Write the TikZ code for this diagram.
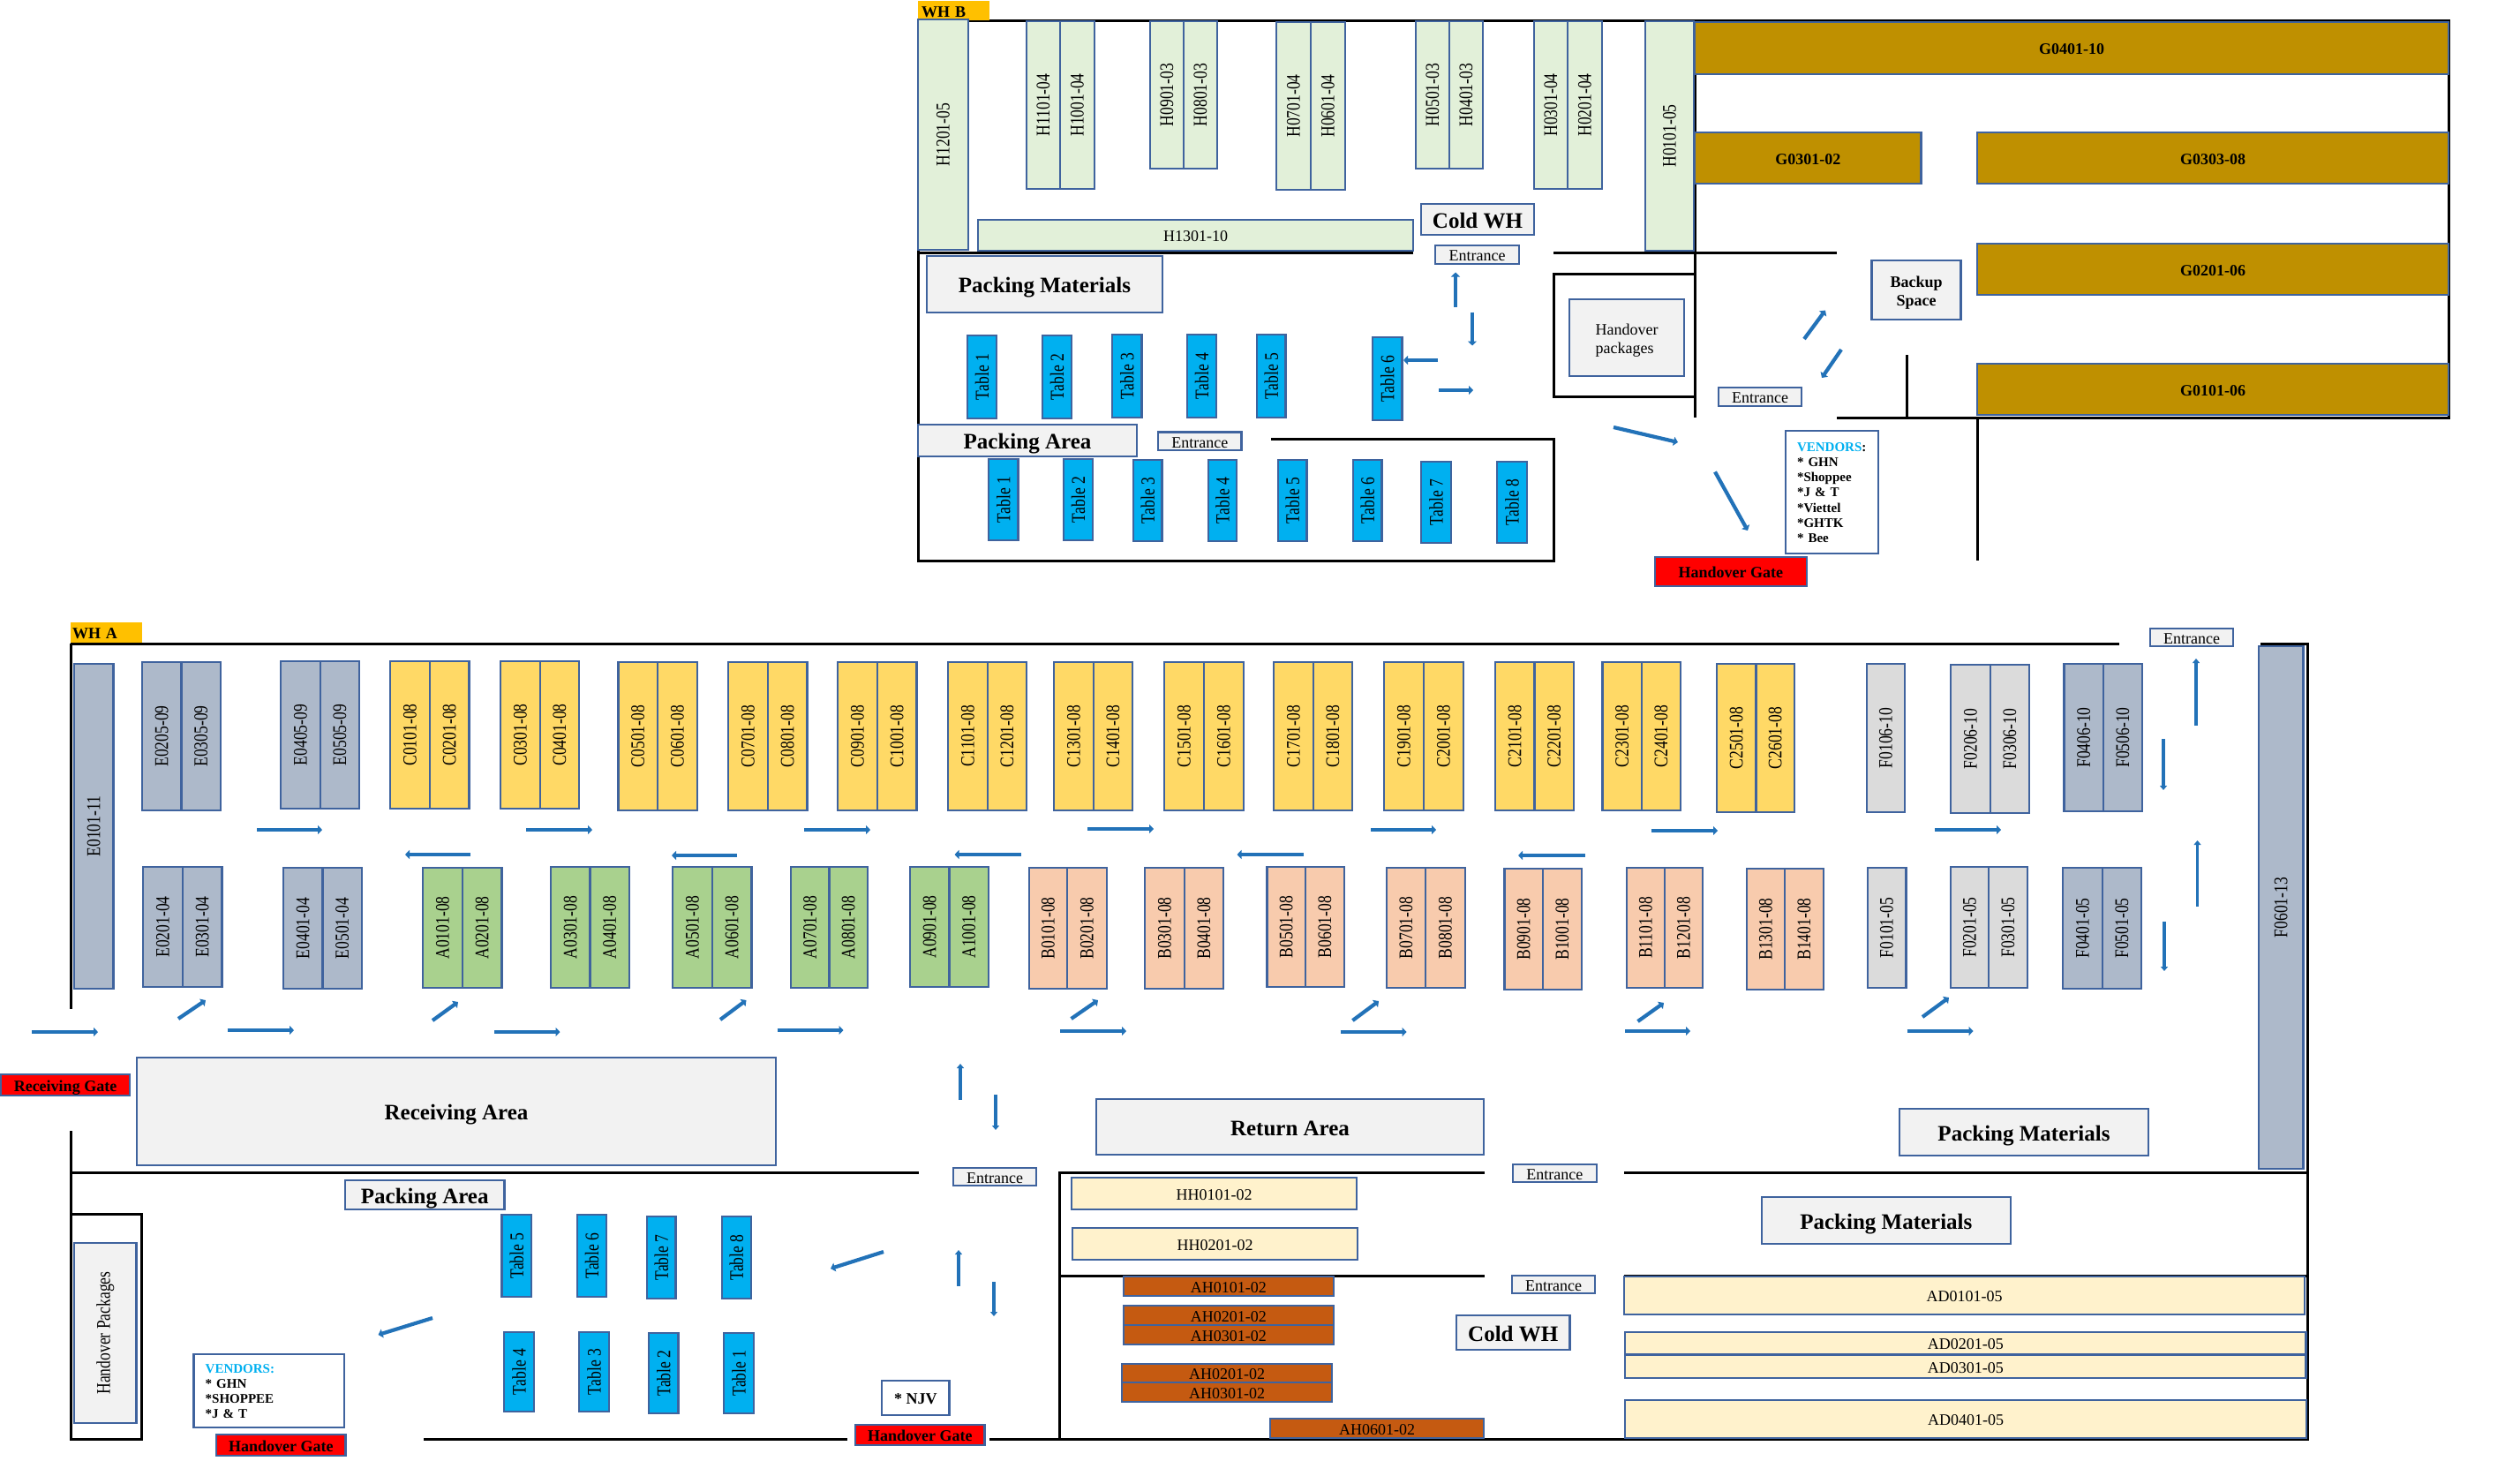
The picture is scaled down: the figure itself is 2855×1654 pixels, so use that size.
\documentclass[tikz,border=0pt]{standalone}
\usepackage{fontspec}
\usepackage{graphicx}
\usetikzlibrary{arrows.meta}
\setmainfont{Liberation Serif}
\newfontfamily\rotf[FakeStretch=0.80]{Liberation Serif}
\definecolor{edge}{HTML}{3F639E}
\definecolor{hgreen}{HTML}{E2F0D9}
\definecolor{gold}{HTML}{BF9000}
\definecolor{slate}{HTML}{ADB9CA}
\definecolor{yel}{HTML}{FFD966}
\definecolor{agreen}{HTML}{A9D18E}
\definecolor{peach}{HTML}{F8CBAD}
\definecolor{lgrey}{HTML}{DBDBDB}
\definecolor{cream}{HTML}{FFF2CC}
\definecolor{rust}{HTML}{C55A11}
\definecolor{cyanb}{HTML}{00B0F0}
\definecolor{pale}{HTML}{F2F2F2}
\definecolor{tag}{HTML}{FFC000}
\definecolor{flow}{HTML}{2272B8}
\tikzset{
 bxs/.style={draw=edge,line width=2.2pt,inner sep=0pt,outer sep=0pt,anchor=center,align=center,font=\fontsize{18}{21}\selectfont},
 lowt/.style={text height=14.5pt,text depth=0pt},
 big/.style={fill=pale,text height=19pt,text depth=0pt,font=\fontsize{25}{28}\selectfont\bfseries},
 small/.style={fill=pale,font=\fontsize{18}{21}\selectfont},
 gates/.style={fill=red,font=\fontsize{18}{20}\selectfont\bfseries},
 racku/.style={fill=gold,font=\fontsize{18}{21}\selectfont\bfseries},
 wall/.style={draw=black,line width=3pt},
 flowa/.style={draw=flow,line width=4.2pt,-{Triangle[length=5pt,width=10pt]}},
 flowv/.style={draw=flow,line width=3.2pt,-{Triangle[length=5pt,width=8pt]}},
 wtag/.style={fill=tag,draw=none,inner sep=0pt,outer sep=0pt,text height=14.5pt,text depth=0pt,font=\fontsize{18}{20}\selectfont\bfseries}
}
\newcommand\bxbase[7][]{%
 \pgfmathsetmacro\cxv{(#3+#5)/2}\pgfmathsetmacro\cyv{(#4+#6)/2}%
 \node[bxs,#1,minimum width={(#5-#3)*1pt},minimum height={(#6-#4)*1pt}] (#2) at (\cxv,\cyv) {#7};}
\newcommand\bx[7][]{\bxbase[lowt,#1]{#2}{#3}{#4}{#5}{#6}{#7}}
\newcommand\rbx[7][]{\bxbase[#1]{#2}{#3}{#4}{#5}{#6}{\rotatebox{90}{\rotf\fontsize{22}{22}\selectfont #7}}}
\newcommand\prr[9][]{\rbx[#1]{#2a}{#3}{#6}{#4}{#7}{#8}\rbx[#1]{#2b}{#4}{#6}{#5}{#7}{#9}}
\newcounter{arwn}
\newcommand\arw[5][flowa]{\stepcounter{arwn}%
 \coordinate (s\thearwn) at (#2,#3);\coordinate (e\thearwn) at (#4,#5);%
 \draw[#1] (s\thearwn) -- (e\thearwn);}
\begin{document}
\begin{tikzpicture}[x=1pt,y=-1pt]
\useasboundingbox (0,0) rectangle (2855,1654);
% ---------- WH B walls
\draw[wall] (1040,24) -- (2774,24) -- (2774,473) -- (2081,473);
\draw[wall] (1040,24) -- (1040,635) -- (1760,635) -- (1760,497) -- (1440,497);
\draw[wall] (1040,286) -- (1601,286);
\draw[wall] (1760,286) -- (2081,286);
\draw[wall] (1920,24) -- (1920,473);
\draw[wall] (1920,310) -- (1760,310) -- (1760,449) -- (1920,449);
\draw[wall] (2160,402) -- (2160,473);
\draw[wall] (2240,473) -- (2240,635);
% ---------- WH A walls
\draw[wall] (80,729) -- (2401,729);
\draw[wall] (2561,729) -- (2614,729) -- (2614,1630) -- (1121,1630);
\draw[wall] (80,729) -- (80,1143);
\draw[wall] (80,1281) -- (80,1630) -- (160,1630) -- (160,1375) -- (80,1375);
\draw[wall] (480,1630) -- (960,1630);
\draw[wall] (80,1328) -- (1041,1328);
\draw[wall] (1681.5,1328) -- (1200,1328) -- (1200,1630);
\draw[wall] (1840,1328) -- (2614,1328);
\draw[wall] (1200,1445) -- (1681.5,1445);
\draw[wall] (1840,1445) -- (2614,1445);
% ---------- WH B labels
\node[wtag,minimum width=81pt,minimum height=22pt,text width=73pt,align=left] (whb) at (1080.5,12) {WH B};
\node[wtag,minimum width=81pt,minimum height=23pt,text width=77pt,align=left] (wha) at (120.5,716.5) {WH A};
% ---------- WH B racks
\rbx[fill=hgreen]{h12}{1040}{22}{1097}{283}{H1201-05}
\prr[fill=hgreen]{h11}{1163}{1201}{1240}{24}{214}{H1101-04}{H1001-04}
\prr[fill=hgreen]{h09}{1303}{1341}{1379}{24}{191}{H0901-03}{H0801-03}
\prr[fill=hgreen]{h07}{1446}{1485}{1524}{25}{215}{H0701-04}{H0601-04}
\prr[fill=hgreen]{h05}{1604}{1642}{1680}{24}{191}{H0501-03}{H0401-03}
\prr[fill=hgreen]{h03}{1738}{1776}{1815}{24}{214}{H0301-04}{H0201-04}
\rbx[fill=hgreen]{h01}{1864}{24}{1919}{284}{H0101-05}
\bx[fill=hgreen]{h13}{1108}{249}{1601}{284}{H1301-10}
\bx[big]{coldb}{1610}{231}{1738}{266}{Cold WH}
\bx[small]{entb1}{1626}{278}{1721}{299}{Entrance}
\bx[big]{pmb}{1050}{290}{1317}{354}{Packing Materials}
\rbx[fill=cyanb]{tb1}{1096}{380}{1129}{474}{Table 1}
\rbx[fill=cyanb]{tb2}{1181}{380}{1214}{474}{Table 2}
\rbx[fill=cyanb]{tb3}{1260}{379}{1293.5}{473}{Table 3}
\rbx[fill=cyanb]{tb4}{1345}{379}{1378}{473}{Table 4}
\rbx[fill=cyanb]{tb5}{1424}{379}{1456.5}{473}{Table 5}
\rbx[fill=cyanb]{tb6}{1555}{382}{1588.5}{476}{Table 6}
\bx[big]{pab}{1040}{481}{1288}{517}{Packing Area}
\bx[small]{entb2}{1312}{489.5}{1406.5}{510}{Entrance}
\rbx[fill=cyanb]{tc1}{1120}{520}{1153.5}{612}{Table 1}
\rbx[fill=cyanb]{tc2}{1205}{520}{1238}{612}{Table 2}
\rbx[fill=cyanb]{tc3}{1284}{521}{1316.5}{613}{Table 3}
\rbx[fill=cyanb]{tc4}{1369}{521}{1401}{613}{Table 4}
\rbx[fill=cyanb]{tc5}{1448}{521}{1480.5}{613}{Table 5}
\rbx[fill=cyanb]{tc6}{1533}{521}{1565.5}{613}{Table 6}
\rbx[fill=cyanb]{tc7}{1610}{523}{1644}{615}{Table 7}
\rbx[fill=cyanb]{tc8}{1696}{523}{1730}{615}{Table 8}
\bxbase[small]{hpb}{1778}{339}{1908}{426}{\raisebox{-3pt}[\height][\depth]{\begin{tabular}{@{}l@{}}Handover\\packages\end{tabular}}}
\bx[gates]{hgb}{1874.7}{631}{2047}{664}{Handover Gate}
\bx[racku]{g04}{1920}{25}{2774}{84}{G0401-10}
\bx[racku]{g0301}{1920}{150}{2176.5}{208}{G0301-02}
\bx[racku]{g0303}{2240}{150}{2774}{208}{G0303-08}
\bx[racku]{g02}{2240}{276}{2774}{334}{G0201-06}
\bx[racku]{g01}{2240}{412}{2774}{470}{G0101-06}
\bxbase[fill=pale,font=\fontsize{18}{21}\selectfont\bfseries]{bks}{2120.5}{295}{2221.5}{362}{\raisebox{-3pt}[\height][\depth]{\begin{tabular}{@{}c@{}}Backup\\Space\end{tabular}}}
\bx[small]{entb3}{1947}{439}{2041}{460}{Entrance}
\bxbase[fill=white,text width=79pt,align=left,font=\fontsize{15}{17.3}\selectfont\bfseries]{vb}{2023}{488}{2128}{627}{\raisebox{-2pt}[\height][\depth]{\begin{tabular}{@{}l@{}}\textcolor{cyanb}{VENDORS}:\\{*} GHN\\{*}Shoppee\\{*}J \& T\\{*}Viettel\\{*}GHTK\\{*} Bee\end{tabular}}}
\arw[flowa]{1649}{348}{1649}{308.5}
\arw[flowa]{1668}{353.5}{1668}{391.5}
\arw[flowa]{1629}{408}{1590}{408}
\arw[flowa]{1630}{442}{1669}{442}
\arw[flowa]{1828}{484}{1901}{501}
\arw[flowa]{2044}{384}{2068}{351.5}
\arw[flowa]{2086}{396}{2064}{428}
\arw[flowa]{1943}{534.5}{1980}{601}
% ---------- WH A top row
\rbx[fill=slate]{e01}{84}{752}{128.5}{1120}{E0101-11}
\prr[fill=slate]{e02}{161}{205.5}{250}{750}{918}{E0205-09}{E0305-09}
\prr[fill=slate]{e04}{318}{363}{407}{749}{916}{E0405-09}{E0505-09}
\prr[fill=yel]{c01}{442}{487}{531.5}{749}{916}{C0101-08}{C0201-08}
\prr[fill=yel]{c03}{567}{612}{656}{749}{916}{C0301-08}{C0401-08}
\prr[fill=yel]{c05}{700.5}{745}{790}{750}{918}{C0501-08}{C0601-08}
\prr[fill=yel]{c07}{825}{870}{914.5}{750}{918}{C0701-08}{C0801-08}
\prr[fill=yel]{c09}{949}{993.6}{1038.5}{750}{918}{C0901-08}{C1001-08}
\prr[fill=yel]{c11}{1074}{1119}{1163}{750}{918}{C1101-08}{C1201-08}
\prr[fill=yel]{c13}{1194}{1239}{1283}{750}{918}{C1301-08}{C1401-08}
\prr[fill=yel]{c15}{1319}{1364}{1409}{750}{918}{C1501-08}{C1601-08}
\prr[fill=yel]{c17}{1443}{1488}{1532}{750}{918}{C1701-08}{C1801-08}
\prr[fill=yel]{c19}{1568}{1613}{1658}{750}{918}{C1901-08}{C2001-08}
\prr[fill=yel]{c21}{1694}{1738.5}{1783}{750}{918}{C2101-08}{C2201-08}
\prr[fill=yel]{c23}{1815.5}{1860}{1904}{750}{918}{C2301-08}{C2401-08}
\prr[fill=yel]{c25}{1945}{1989.5}{2033}{752}{920}{C2501-08}{C2601-08}
\rbx[fill=lgrey]{f0106}{2115}{752}{2158}{920}{F0106-10}
\prr[fill=lgrey]{f0206}{2210}{2255}{2299}{753}{921}{F0206-10}{F0306-10}
\prr[fill=slate]{f0406}{2338.5}{2383}{2427}{752}{919}{F0406-10}{F0506-10}
\rbx[fill=slate]{f06}{2559}{732}{2609.5}{1324}{F0601-13}
% ---------- WH A second row
\prr[fill=slate]{e0201}{162}{207}{251.5}{982}{1118}{E0201-04}{E0301-04}
\prr[fill=slate]{e0401}{320.6}{365.5}{410}{983}{1120}{E0401-04}{E0501-04}
\prr[fill=agreen]{a01}{479}{524}{568.5}{983}{1119}{A0101-08}{A0201-08}
\prr[fill=agreen]{a03}{624}{668.5}{713}{982}{1119}{A0301-08}{A0401-08}
\prr[fill=agreen]{a05}{762}{807}{851.5}{982}{1119}{A0501-08}{A0601-08}
\prr[fill=agreen]{a07}{896}{939.4}{983}{982}{1119}{A0701-08}{A0801-08}
\prr[fill=agreen]{a09}{1031}{1075.5}{1120}{982}{1118}{A0901-08}{A1001-08}
\prr[fill=peach]{b01}{1166}{1209}{1254}{983}{1120}{B0101-08}{B0201-08}
\prr[fill=peach]{b03}{1297}{1342}{1386}{983}{1120}{B0301-08}{B0401-08}
\prr[fill=peach]{b05}{1435.5}{1479}{1523}{982}{1118}{B0501-08}{B0601-08}
\prr[fill=peach]{b07}{1570.6}{1615}{1660}{983}{1119}{B0701-08}{B0801-08}
\prr[fill=peach]{b09}{1704.5}{1747.6}{1792}{984}{1121}{B0901-08}{B1001-08}
\prr[fill=peach]{b11}{1842.7}{1886}{1929}{983}{1119}{B1101-08}{B1201-08}
\prr[fill=peach]{b13}{1979}{2022}{2066}{984}{1121}{B1301-08}{B1401-08}
\rbx[fill=lgrey]{f0101}{2115.6}{983}{2159.4}{1119}{F0101-05}
\prr[fill=lgrey]{f0201}{2210}{2253}{2297}{982}{1119}{F0201-05}{F0301-05}
\prr[fill=slate]{f0401}{2337}{2382}{2426}{983}{1120}{F0401-05}{F0501-05}
\bx[small]{enta1}{2436}{712}{2530}{732}{Entrance}
% ---------- aisle arrows
\arw{291}{940}{365}{940}
\arw{596}{940}{671}{940}
\arw{911}{940}{986}{940}
\arw{533}{968}{459}{968}
\arw{835}{969}{761}{969}
\arw{1157}{968}{1081.5}{968}
\arw{1232}{939}{1307}{939}
\arw{1477}{968}{1401.5}{968}
\arw{1553}{940}{1627}{940}
\arw{1795.5}{969}{1720}{969}
\arw{1870.6}{941}{1946}{941}
\arw{2192}{940}{2267}{940}
\arw[flowv]{2488}{822}{2488}{746}
\arw[flowv]{2451}{837}{2451}{895}
\arw[flowv]{2489.5}{1027}{2489.5}{952}
\arw[flowv]{2452}{1044}{2452}{1100}
\arw{36}{1169}{111}{1169}
\arw{257.6}{1167}{333}{1167}
\arw{560}{1169}{634.5}{1169}
\arw{880.6}{1167}{955.5}{1167}
\arw{1201}{1168}{1276}{1168}
\arw{1518.5}{1169}{1593.6}{1169}
\arw{1841}{1168}{1915}{1168}
\arw{2160.6}{1168}{2235.6}{1168}
\arw{202}{1154}{233}{1133}
\arw{490}{1156}{519}{1135}
\arw{816}{1155}{845.5}{1133}
\arw{1213.6}{1154}{1244}{1133}
\arw{1532.4}{1156}{1562}{1134}
\arw{1855.5}{1157}{1885}{1136}
\arw{2178}{1152}{2208}{1130}
% ---------- WH A lower areas
\bx[gates]{rg}{1}{1217}{147}{1241}{Receiving Gate}
\bx[big]{ra}{155}{1198}{879}{1320}{Receiving Area}
\bx[big]{paa}{391}{1337}{571.5}{1370}{Packing Area}
\rbx[fill=pale]{hpa}{84}{1408}{154.5}{1612}{Handover Packages}
\rbx[fill=cyanb]{ta5}{568.5}{1376}{602}{1469}{Table 5}
\rbx[fill=cyanb]{ta6}{654}{1376}{687}{1469}{Table 6}
\rbx[fill=cyanb]{ta7}{733}{1378}{765.5}{1471}{Table 7}
\rbx[fill=cyanb]{ta8}{817.6}{1378}{851}{1471}{Table 8}
\rbx[fill=cyanb]{ta4}{571}{1509}{605}{1599}{Table 4}
\rbx[fill=cyanb]{ta3}{656}{1509}{690}{1599}{Table 3}
\rbx[fill=cyanb]{ta2}{735}{1510}{768.5}{1601}{Table 2}
\rbx[fill=cyanb]{ta1}{820}{1510}{854}{1601}{Table 1}
\bxbase[fill=white,text width=144pt,align=left,font=\fontsize{15}{17}\selectfont\bfseries]{va}{219.4}{1534}{390}{1617}{\raisebox{-2.5pt}[\height][\depth]{\begin{tabular}{@{}l@{}}\textcolor{cyanb}{VENDORS:}\\{*} GHN\\{*}SHOPPEE\\{*}J \& T\end{tabular}}}
\bx[gates]{hga}{245}{1625}{391.5}{1649}{Handover Gate}
\bx[gates]{hgc}{969}{1614}{1115.5}{1637}{Handover Gate}
\bx[fill=white,font=\fontsize{18}{21}\selectfont\bfseries]{njv}{999}{1564}{1075.5}{1603}{* NJV}
\bx[small]{enta2}{1080}{1323}{1174}{1343}{Entrance}
\bx[big]{ret}{1242}{1245}{1681}{1308}{Return Area}
\bx[small]{enta3}{1713.6}{1319}{1809}{1339}{Entrance}
\bx[fill=cream]{hh1}{1214}{1334}{1537}{1370}{HH0101-02}
\bx[fill=cream]{hh2}{1215}{1391}{1538}{1427}{HH0201-02}
\bx[fill=rust]{ah1}{1273}{1446}{1510.6}{1468}{AH0101-02}
\bx[fill=rust]{ah2}{1273}{1479}{1510.6}{1501}{AH0201-02}
\bx[fill=rust]{ah3}{1273}{1501}{1510.6}{1523}{AH0301-02}
\bx[fill=rust]{ah4}{1271}{1545}{1509}{1566}{AH0201-02}
\bx[fill=rust]{ah5}{1271}{1566}{1509}{1588}{AH0301-02}
\bx[fill=rust]{ah6}{1439}{1607}{1681}{1629}{AH0601-02}
\bx[small]{enta4}{1713}{1445}{1807}{1465}{Entrance}
\bx[big]{colda}{1650}{1490}{1778.5}{1529}{Cold WH}
\bx[big]{pm1}{2152}{1256}{2434}{1309}{Packing Materials}
\bx[big]{pm2}{1995.6}{1356}{2278}{1409}{Packing Materials}
\bx[fill=cream]{ad1}{1840}{1446}{2611}{1489}{AD0101-05}
\bx[fill=cream]{ad2}{1841}{1509}{2612.5}{1534}{AD0201-05}
\bx[fill=cream]{ad3}{1841}{1535}{2612.5}{1561}{AD0301-05}
\bx[fill=cream]{ad4}{1841}{1586}{2613}{1629}{AD0401-05}
\arw{490}{1493}{428.5}{1512}
\arw{1001}{1418}{941}{1437}
\arw[flowv]{1088}{1246}{1088}{1205}
\arw[flowv]{1128}{1240}{1128}{1280}
\arw[flowv]{1086}{1457}{1086}{1416}
\arw[flowv]{1126}{1452}{1126}{1491}
\end{tikzpicture}
\end{document}
